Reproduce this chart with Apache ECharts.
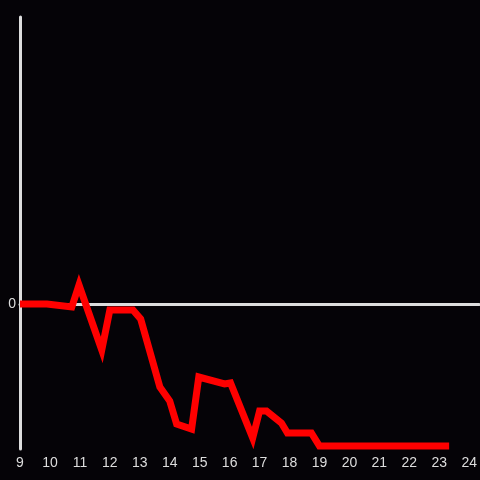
<!DOCTYPE html>
<html>
<head>
<meta charset="utf-8">
<script src="https://cdn.jsdelivr.net/npm/echarts@6/dist/echarts.min.js"></script>
<style>
    html, body { margin: 0; padding: 0; background: #050307; }
    #chart { width: 480px; height: 480px; }
</style>
</head>
<body>
<div id="chart"></div>
<script>
// hours of day and the value at each point
var hours = [9.0, 9.9, 10.73, 10.97, 11.73, 12.0, 12.77, 13.03, 13.67, 14.0, 14.23, 14.73,
    14.97, 15.83, 16.03, 16.77, 17.0, 17.23, 17.73, 17.93, 18.73, 19.0, 23.33]
var values = [0, 0, -3, 19, -46, -6, -6, -15, -83, -97, -120, -125,
    -73, -80, -79, -134, -107, -107, -119, -129, -129, -142, -142]
var xTicks = [9, 10, 11, 12, 13, 14, 15, 16, 17, 18, 19, 20, 21, 22, 23, 24]

var points = hours.map(function (h, i) {
    return [h, values[i]]
})

var chart = echarts.init(document.getElementById('chart'))
chart.setOption({
    backgroundColor: '#050307',
    animation: false,
    grid: {
        left: 20,
        right: 0,
        top: 17,
        bottom: 31,
    },
    xAxis: [
        {
            // zero line
            type: 'value',
            min: 9,
            max: 24.33,
            axisLine: {
                show: true,
                onZero: true,
                lineStyle: { color: '#dddddd', width: 3 },
            },
            axisTick: { show: false },
            axisLabel: { show: false },
            splitLine: { show: false },
        },
        {
            // hour labels at bottom
            type: 'value',
            position: 'bottom',
            min: 9,
            max: 24.33,
            interval: 1,
            axisLine: { show: false },
            axisTick: { show: false },
            splitLine: { show: false },
            axisLabel: {
                color: '#dddddd',
                fontSize: 14,
                margin: 7,
                showMaxLabel: false,
                formatter: function (v) {
                    return xTicks.indexOf(v) >= 0 ? String(v) : ''
                },
            },
        },
    ],
    yAxis: {
        type: 'value',
        min: -145,
        max: 287,
        interval: 145,
        axisLine: {
            show: true,
            lineStyle: { color: '#dddddd', width: 3 },
        },
        axisTick: { show: false },
        splitLine: { show: false },
        axisLabel: {
            color: '#dddddd',
            fontSize: 14,
            margin: 4,
            formatter: function (v) {
                return v === 0 ? '0' : ''
            },
        },
    },
    series: [
        {
            type: 'line',
            xAxisIndex: 0,
            data: points,
            symbol: 'none',
            lineStyle: {
                color: '#ff0000',
                width: 7,
                join: 'miter',
                cap: 'butt',
            },
        },
    ],
})
</script>
</body>
</html>
